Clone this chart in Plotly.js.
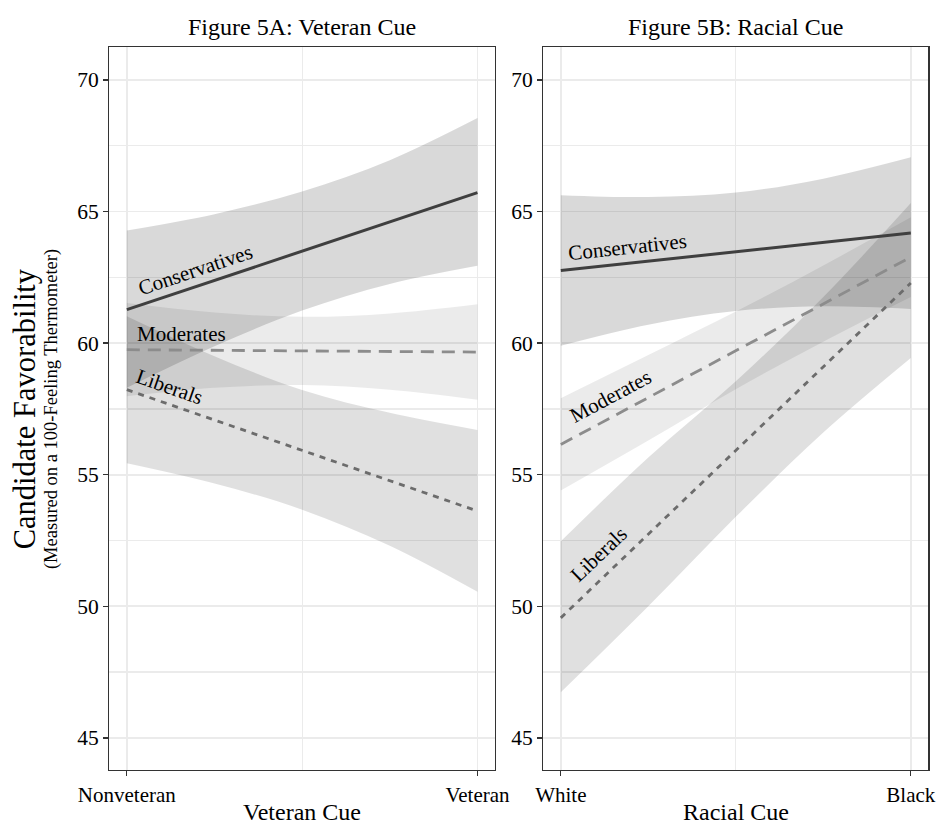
<!DOCTYPE html>
<html>
<head>
<meta charset="utf-8">
<script src="https://cdn.plot.ly/plotly-3.0.1.min.js"></script>
<style>
  html, body { margin: 0; padding: 0; background: #fff; }
  #chart { width: 938px; height: 824px; }
</style>
</head>
<body>
<div id="chart"></div>
<script>
// ---------------- data ----------------
const groups = ['Conservatives', 'Moderates', 'Liberals'];
const xPos = [1, 1.25, 1.5, 1.75, 2];

const vetTickLabels = ['Nonveteran', 'Veteran'];
const raceTickLabels = ['White', 'Black'];
const yTickVals = [45, 50, 55, 60, 65, 70];

// Figure 5A: Veteran cue
const vetConsFit   = [61.27, 62.38, 63.50, 64.61, 65.72];
const vetConsUpper = [64.28, 64.90, 65.76, 66.95, 68.55];
const vetConsLower = [58.30, 59.88, 61.24, 62.25, 62.94];
const vetModFit    = [59.75, 59.73, 59.71, 59.68, 59.66];
const vetModUpper  = [61.52, 61.16, 61.00, 61.13, 61.48];
const vetModLower  = [57.98, 58.30, 58.41, 58.23, 57.85];
const vetLibFit    = [58.23, 57.08, 55.94, 54.79, 53.62];
const vetLibUpper  = [61.02, 59.50, 58.22, 57.35, 56.70];
const vetLibLower  = [55.44, 54.67, 53.67, 52.30, 50.55];

// Figure 5B: Racial cue
const raceConsFit   = [62.76, 63.12, 63.47, 63.83, 64.18];
const raceConsUpper = [65.62, 65.55, 65.72, 66.25, 67.06];
const raceConsLower = [59.90, 60.70, 61.22, 61.40, 61.30];
const raceModFit    = [56.15, 57.93, 59.71, 61.49, 63.27];
const raceModUpper  = [57.91, 59.55, 61.20, 62.95, 64.78];
const raceModLower  = [54.40, 56.30, 58.25, 60.05, 61.75];
const raceLibFit    = [49.56, 52.74, 55.92, 59.10, 62.28];
const raceLibUpper  = [52.47, 55.65, 58.55, 61.75, 65.32];
const raceLibLower  = [46.73, 50.00, 53.40, 56.60, 59.43];

// ---------------- styles ----------------
const FONT = 'Liberation Serif, Times New Roman, serif';
const bandFill = ['rgba(0,0,0,0.15)', 'rgba(0,0,0,0.08)', 'rgba(0,0,0,0.12)'];
const lineStyle = [
  {color: '#3f3f3f', width: 3, dash: 'solid'},
  {color: '#8c8c8c', width: 2.8, dash: '13px,8px'},
  {color: '#6c6c6c', width: 2.8, dash: '6px,6px'}
];

const panels = [
  {xa: 'x',  ya: 'y',  fit: [vetConsFit, vetModFit, vetLibFit],
   up: [vetConsUpper, vetModUpper, vetLibUpper], lo: [vetConsLower, vetModLower, vetLibLower]},
  {xa: 'x2', ya: 'y2', fit: [raceConsFit, raceModFit, raceLibFit],
   up: [raceConsUpper, raceModUpper, raceLibUpper], lo: [raceConsLower, raceModLower, raceLibLower]}
];

const traces = [];
panels.forEach(p => {
  // ribbons
  for (let g = 0; g < 3; g++) {
    traces.push({x: xPos, y: p.lo[g], xaxis: p.xa, yaxis: p.ya, type: 'scatter', mode: 'lines',
      line: {width: 0, shape: 'spline', color: 'rgba(0,0,0,0)'}, hoverinfo: 'skip', showlegend: false});
    traces.push({x: xPos, y: p.up[g], xaxis: p.xa, yaxis: p.ya, type: 'scatter', mode: 'lines',
      fill: 'tonexty', fillcolor: bandFill[g],
      line: {width: 0, shape: 'spline', color: 'rgba(0,0,0,0)'}, hoverinfo: 'skip', showlegend: false});
  }
});
panels.forEach(p => {
  // fitted lines
  for (let g = 0; g < 3; g++) {
    traces.push({x: xPos, y: p.fit[g], xaxis: p.xa, yaxis: p.ya, type: 'scatter', mode: 'lines',
      name: groups[g], line: lineStyle[g], showlegend: false});
  }
});

const gridC = '#ebebeb';
function xAxis(domain, labels, anchor) {
  return {
    domain: domain, anchor: anchor, range: [0.95, 2.05],
    tickmode: 'array', tickvals: [1, 2], ticktext: labels,
    ticks: 'outside', ticklen: 5, tickwidth: 1.3, tickcolor: '#333',
    showline: true, mirror: true, linecolor: '#333', linewidth: 1.3,
    showgrid: true, gridcolor: gridC, gridwidth: 1.6, zeroline: false,
    minor: {tickmode: 'array', tickvals: [1.5], showgrid: true, gridcolor: gridC, gridwidth: 1.2, ticks: ''},
    tickfont: {family: FONT, size: 21, color: '#000'}, fixedrange: true
  };
}
function yAxis(anchor) {
  return {
    domain: [0.06553, 0.9426], anchor: anchor, range: [43.78, 71.24],
    tickmode: 'array', tickvals: yTickVals,
    ticks: 'outside', ticklen: 5, tickwidth: 1.3, tickcolor: '#333',
    showline: true, mirror: true, linecolor: '#333', linewidth: 1.3,
    showgrid: true, gridcolor: gridC, gridwidth: 1.6, zeroline: false,
    minor: {tickmode: 'linear', tick0: 47.5, dtick: 5, showgrid: true, gridcolor: gridC, gridwidth: 1.2, ticks: ''},
    tickfont: {family: FONT, size: 21.5, color: '#000'}, fixedrange: true
  };
}

const annFont = {family: FONT, size: 21, color: '#000'};
const annotations = [
  // panel titles
  {text: 'Figure 5A: Veteran Cue', xref: 'paper', yref: 'paper', x: 0.3222, y: 0.967, showarrow: false,
   xanchor: 'center', yanchor: 'middle', font: {family: FONT, size: 24, color: '#000'}},
  {text: 'Figure 5B: Racial Cue', xref: 'paper', yref: 'paper', x: 0.7844, y: 0.967, showarrow: false,
   xanchor: 'center', yanchor: 'middle', font: {family: FONT, size: 24, color: '#000'}},
  // axis titles
  {text: 'Veteran Cue', xref: 'paper', yref: 'paper', x: 0.3222, y: 0.0146, showarrow: false,
   xanchor: 'center', yanchor: 'middle', font: {family: FONT, size: 24, color: '#000'}},
  {text: 'Racial Cue', xref: 'paper', yref: 'paper', x: 0.7844, y: 0.0146, showarrow: false,
   xanchor: 'center', yanchor: 'middle', font: {family: FONT, size: 24, color: '#000'}},
  {text: 'Candidate Favorability', xref: 'paper', yref: 'paper', x: 0.0262, y: 0.504, showarrow: false,
   textangle: -90, xanchor: 'center', yanchor: 'middle', font: {family: FONT, size: 30.5, color: '#000'}},
  {text: '(Measured on a 100-Feeling Thermometer)', xref: 'paper', yref: 'paper', x: 0.0548, y: 0.504, showarrow: false,
   textangle: -90, xanchor: 'center', yanchor: 'middle', font: {family: FONT, size: 18.5, color: '#000'}},
  // group labels, left panel
  {text: groups[0], xref: 'x', yref: 'y', x: 1.195, y: 62.76, textangle: -18.6, showarrow: false, font: annFont},
  {text: groups[1], xref: 'x', yref: 'y', x: 1.157, y: 60.35, textangle: 0, showarrow: false, font: annFont},
  {text: groups[2], xref: 'x', yref: 'y', x: 1.123, y: 58.33, textangle: 19.2, showarrow: false, font: annFont},
  // group labels, right panel
  {text: groups[0], xref: 'x2', yref: 'y2', x: 1.192, y: 63.65, textangle: -6.1, showarrow: false, font: annFont},
  {text: groups[1], xref: 'x2', yref: 'y2', x: 1.143, y: 58.0, textangle: -28.1, showarrow: false, font: annFont},
  {text: groups[2], xref: 'x2', yref: 'y2', x: 1.109, y: 52.0, textangle: -43.7, showarrow: false, font: annFont}
];

const layout = {
  width: 938, height: 824,
  margin: {l: 0, r: 0, t: 0, b: 0},
  paper_bgcolor: '#fff', plot_bgcolor: '#fff',
  showlegend: false,
  font: {family: FONT, color: '#000'},
  xaxis: xAxis([0.11652, 0.52772], vetTickLabels, 'y'),
  yaxis: yAxis('x'),
  xaxis2: xAxis([0.57921, 0.98966], raceTickLabels, 'y2'),
  yaxis2: yAxis('x2'),
  annotations: annotations
};

Plotly.newPlot('chart', traces, layout, {staticPlot: true, displayModeBar: false});
</script>
</body>
</html>
